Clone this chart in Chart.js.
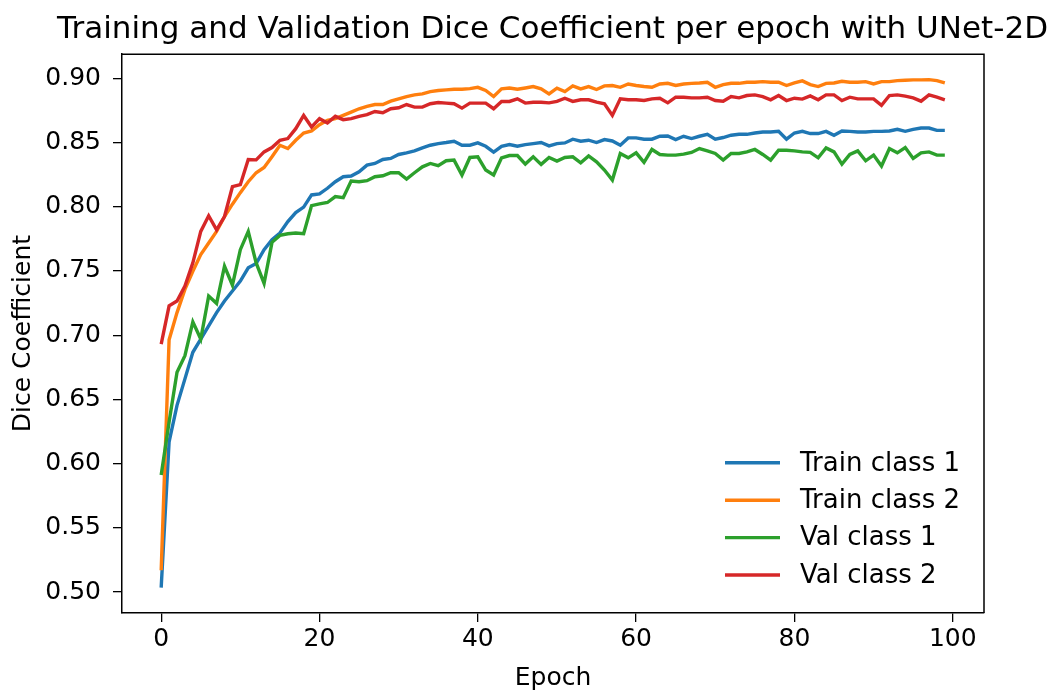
<!DOCTYPE html>
<html>
<head>
<meta charset="utf-8">
<script src="https://cdn.jsdelivr.net/npm/chart.js@4/dist/chart.umd.min.js"></script>
<style>
  html, body { margin: 0; padding: 0; background: #fff; }
  #wrap { width: 1055px; height: 692px; }
</style>
</head>
<body>
<div id="wrap"><canvas id="c" width="1055" height="692"></canvas></div>
<script>
const titleText = 'Training and Validation Dice Coefficient per epoch with UNet-2D';
const xAxisTitle = 'Epoch';
const yAxisTitle = 'Dice Coefficient';
const seriesLabels = ['Train class 1', 'Train class 2', 'Val class 1', 'Val class 2'];
const seriesColors = ['#1f77b4', '#ff7f0e', '#2ca02c', '#d62728'];

const epochs = [0,1,2,3,4,5,6,7,8,9,10,11,12,13,14,15,16,17,18,19,20,21,22,23,24,25,26,27,28,29,30,31,32,33,34,35,36,37,38,39,40,41,42,43,44,45,46,47,48,49,50,51,52,53,54,55,56,57,58,59,60,61,62,63,64,65,66,67,68,69,70,71,72,73,74,75,76,77,78,79,80,81,82,83,84,85,86,87,88,89,90,91,92,93,94,95,96,97,98,99];

const xTicks = [0, 20, 40, 60, 80, 100];
const yTicks = [0.50, 0.55, 0.60, 0.65, 0.70, 0.75, 0.80, 0.85, 0.90];

const trainClass1 = [0.5035,0.617,0.6454,0.666,0.6867,0.697,0.7073,0.7176,0.7266,0.7344,
0.7421,0.7525,0.7558,0.7666,0.7744,0.7796,0.7885,0.7955,0.7997,0.8092,
0.81,0.8144,0.8195,0.8234,0.8239,0.8272,0.8324,0.8337,0.8368,0.8376,
0.8407,0.842,0.8435,0.8458,0.8479,0.8492,0.85,0.851,0.8479,0.8479,
0.8497,0.8471,0.8425,0.8471,0.8484,0.8471,0.8484,0.8492,0.85,0.8474,
0.8492,0.8497,0.8526,0.851,0.8518,0.85,0.8523,0.8512,0.8479,0.8536,
0.8536,0.8526,0.8526,0.8549,0.8551,0.8523,0.8549,0.8531,0.8549,0.8564,
0.8526,0.8539,0.8557,0.8564,0.8564,0.8574,0.8582,0.8582,0.8587,0.8526,
0.8574,0.8587,0.857,0.857,0.8587,0.8557,0.859,0.8587,0.8582,0.8582,
0.8587,0.8587,0.859,0.8603,0.8587,0.8603,0.8613,0.8613,0.8595,0.8595];

const trainClass2 = [0.517,0.6964,0.7176,0.7357,0.7498,0.7628,0.7718,0.7808,0.7924,0.802,
0.811,0.8195,0.8265,0.8306,0.8389,0.8479,0.8453,0.8518,0.8574,0.859,
0.8639,0.8673,0.8686,0.8711,0.8737,0.8763,0.8781,0.8796,0.8796,0.8822,
0.884,0.8858,0.8871,0.8879,0.8897,0.8905,0.891,0.8915,0.8915,0.892,
0.893,0.8905,0.8858,0.8918,0.8925,0.8915,0.8925,0.8936,0.8918,0.8879,
0.8923,0.8897,0.8941,0.8918,0.8936,0.8913,0.8941,0.8944,0.893,0.8956,
0.8944,0.8936,0.893,0.8956,0.8961,0.8944,0.8956,0.8961,0.8964,0.8969,
0.893,0.8951,0.8961,0.8961,0.8969,0.8969,0.8974,0.8969,0.8969,0.8944,
0.8964,0.898,0.8951,0.8936,0.8961,0.8964,0.8977,0.8969,0.8969,0.8974,
0.8956,0.8974,0.8974,0.8982,0.8985,0.8988,0.8988,0.899,0.8982,0.8964];

const valClass1 = [0.5912,0.6325,0.6712,0.684,0.7104,0.697,0.7305,0.7248,0.7537,0.739,
0.7666,0.7808,0.7563,0.7403,0.7723,0.7777,0.779,0.7796,0.779,0.8009,
0.8022,0.8033,0.8079,0.8071,0.82,0.8195,0.8203,0.8234,0.8241,0.8265,
0.8265,0.8216,0.8265,0.8311,0.8337,0.832,0.8358,0.8363,0.8247,0.8384,
0.8389,0.8286,0.8247,0.8381,0.8399,0.8399,0.8332,0.8389,0.833,0.8384,
0.8355,0.8384,0.8389,0.8342,0.8396,0.835,0.8286,0.8208,0.8415,0.8381,
0.842,0.8345,0.8446,0.8407,0.8402,0.8402,0.841,0.8423,0.8453,0.8435,
0.8415,0.8363,0.8415,0.8415,0.8427,0.8446,0.8407,0.8363,0.844,0.844,
0.8435,0.8427,0.8423,0.8381,0.8458,0.8427,0.8332,0.8407,0.8435,0.8358,
0.8402,0.8317,0.8453,0.842,0.8461,0.8376,0.842,0.8427,0.8402,0.8402];

const valClass2 = [0.693,0.7228,0.7266,0.7382,0.7563,0.7808,0.793,0.7821,0.7924,0.8156,
0.8172,0.8368,0.8365,0.8427,0.8461,0.8518,0.8531,0.8608,0.8711,0.8621,
0.8686,0.8652,0.8704,0.8678,0.8686,0.8704,0.8717,0.8742,0.8732,0.8763,
0.8771,0.8796,0.8776,0.8776,0.8802,0.8812,0.8807,0.8802,0.8768,0.8807,
0.8807,0.8807,0.8763,0.882,0.882,0.884,0.8807,0.8814,0.8814,0.8809,
0.882,0.8845,0.882,0.8833,0.8833,0.8814,0.8802,0.8711,0.884,0.8833,
0.8833,0.8827,0.884,0.8845,0.8809,0.8853,0.8853,0.8848,0.8848,0.8853,
0.8827,0.8822,0.8858,0.8848,0.8866,0.8871,0.8858,0.8833,0.8866,0.8827,
0.8845,0.8838,0.8863,0.8833,0.8871,0.8871,0.8827,0.8853,0.884,0.884,
0.884,0.8789,0.8866,0.8871,0.8861,0.8848,0.8822,0.8871,0.8853,0.8833];

const allSeries = [trainClass1, trainClass2, valClass1, valClass2];

const FONT = "'DejaVu Sans', 'Liberation Sans', sans-serif";

// matplotlib-like autoscale margins (5%)
const allVals = allSeries.flat();
const yMinData = Math.min(...allVals), yMaxData = Math.max(...allVals);
const yPad = (yMaxData - yMinData) * 0.05;
const xPad = (epochs[epochs.length - 1] - epochs[0]) * 0.05;

const datasets = allSeries.map((s, i) => ({
  label: seriesLabels[i],
  data: s.map((v, j) => ({ x: epochs[j], y: v })),
  borderColor: seriesColors[i],
  backgroundColor: seriesColors[i],
  borderWidth: 3.4,
  pointRadius: 0,
  tension: 0,
  fill: false,
  yAxisID: 'y',
  order: allSeries.length - i
}));

const framePlugin = {
  id: 'frame',
  afterDatasetsDraw(chart) {
    const { ctx, chartArea: a } = chart;
    ctx.save();
    ctx.strokeStyle = '#000';
    ctx.lineWidth = 1.5;
    ctx.beginPath();
    ctx.moveTo(a.left, a.top);
    ctx.lineTo(a.right, a.top);
    ctx.lineTo(a.right, a.bottom);
    ctx.stroke();
    ctx.restore();
  }
};

const legendPlugin = {
  id: 'mplLegend',
  afterDraw(chart) {
    const { ctx, chartArea: a } = chart;
    const ds = chart.data.datasets;
    const rowH = 37.4;
    const lastRowY = a.bottom - 38;
    ctx.save();
    ctx.font = '26px ' + FONT;
    ctx.textBaseline = 'middle';
    ctx.textAlign = 'left';
    ds.forEach((d, i) => {
      const y = lastRowY - (ds.length - 1 - i) * rowH;
      ctx.strokeStyle = d.borderColor;
      ctx.lineWidth = 3.4;
      ctx.beginPath();
      ctx.moveTo(a.right - 259, y);
      ctx.lineTo(a.right - 204, y);
      ctx.stroke();
      ctx.fillStyle = '#000';
      ctx.fillText(d.label, a.right - 184, y + 1);
    });
    ctx.restore();
  }
};

new Chart(document.getElementById('c'), {
  type: 'line',
  data: { datasets },
  options: {
    responsive: false,
    devicePixelRatio: 1,
    animation: false,
    layout: { padding: { left: 0, right: 7, top: 0, bottom: 0 } },
    plugins: {
      legend: { display: false },
      tooltip: { enabled: false },
      title: {
        display: true,
        text: titleText,
        align: 'end',
        color: '#000',
        font: { family: FONT, size: 31, weight: 'normal' },
        padding: { top: 11, bottom: 6 }
      }
    },
    scales: {
      x: {
        type: 'linear',
        min: epochs[0] - xPad,
        max: epochs[epochs.length - 1] + xPad,
        afterBuildTicks: (s) => { s.ticks = xTicks.map(v => ({ value: v })); },
        afterFit: (s) => { s.height = 79; },
        ticks: {
          color: '#000',
          font: { family: FONT, size: 25 },
          padding: 2,
          maxRotation: 0,
          autoSkip: false,
          callback: (v) => String(v)
        },
        grid: { display: true, drawOnChartArea: false, drawTicks: true, tickLength: 9, color: '#000', lineWidth: 1.3 },
        border: { display: true, color: '#000', width: 1.5 },
        title: {
          display: true,
          text: xAxisTitle,
          color: '#000',
          font: { family: FONT, size: 25 },
          padding: { top: 0, bottom: -1 }
        }
      },
      y: {
        type: 'linear',
        position: 'left',
        min: yMinData - yPad,
        max: yMaxData + yPad,
        afterBuildTicks: (s) => { s.ticks = yTicks.map(v => ({ value: v })); },
        afterFit: (s) => { s.width = 122; },
        ticks: {
          color: '#000',
          font: { family: FONT, size: 25 },
          padding: 12,
          autoSkip: false,
          callback: (v) => Number(v).toFixed(2)
        },
        grid: { display: true, drawOnChartArea: false, drawTicks: true, tickLength: 9, color: '#000', lineWidth: 1.3 },
        border: { display: true, color: '#000', width: 1.5 },
        title: {
          display: true,
          text: yAxisTitle,
          color: '#000',
          font: { family: FONT, size: 25 },
          padding: { top: 8, bottom: 0 }
        }
      },
      yRight: {
        type: 'linear',
        position: 'right',
        display: true,
        afterFit: (s) => { s.width = 64; },
        ticks: { display: false },
        grid: { display: false, drawTicks: false },
        border: { display: false },
        title: { display: false }
      }
    }
  },
  plugins: [framePlugin, legendPlugin]
});
</script>
</body>
</html>
